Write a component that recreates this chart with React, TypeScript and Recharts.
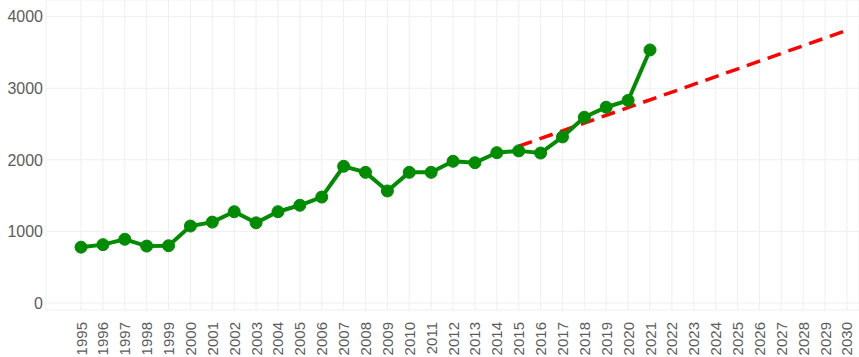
import { LineChart, Line, XAxis, YAxis, CartesianGrid } from "recharts";

const YEARS = [
  1995, 1996, 1997, 1998, 1999, 2000, 2001, 2002, 2003, 2004, 2005, 2006,
  2007, 2008, 2009, 2010, 2011, 2012, 2013, 2014, 2015, 2016, 2017, 2018,
  2019, 2020, 2021, 2022, 2023, 2024, 2025, 2026, 2027, 2028, 2029, 2030,
];

const ACTUAL_YEARS = YEARS.slice(0, 27);
const ACTUAL_VALUES = [
  780, 815, 890, 795, 800, 1075, 1130, 1275, 1120, 1275, 1365, 1480,
  1910, 1825, 1565, 1825, 1825, 1980, 1960, 2100, 2125, 2095, 2320, 2595,
  2735, 2830, 3535,
];

const TREND_YEARS = [2015, 2030];
const TREND_VALUES = [2190, 3810];

const Y_TICKS = [0, 1000, 2000, 3000, 4000];

const actualData = ACTUAL_YEARS.map((year, i) => ({ year, value: ACTUAL_VALUES[i] }));
const trendData = TREND_YEARS.map((year, i) => ({ year, value: TREND_VALUES[i] }));

const TEXT = "#5c5c5c";
const FONT = "'Liberation Sans', Arial, sans-serif";

function YearTick(props: any) {
  const { x, y, payload } = props;
  return (
    <text
      x={x}
      y={y}
      transform={`rotate(-90, ${x}, ${y})`}
      textAnchor="end"
      dominantBaseline="central"
      fill={TEXT}
      fontSize={15}
      fontFamily={FONT}
    >
      {payload.value}
    </text>
  );
}

export default function App() {
  return (
    <div style={{ width: 859, height: 357, background: "#fff" }}>
      <style>{`body { margin: 0; }`}</style>
      <LineChart width={859} height={357} margin={{ top: 0, right: 0, bottom: 0, left: 0 }}>
        <CartesianGrid stroke="#efefef" strokeWidth={1} />
        <XAxis
          type="number"
          dataKey="year"
          domain={[1993.4, 2030.55]}
          ticks={YEARS}
          interval={0}
          allowDataOverflow
          axisLine={false}
          tickLine={false}
          tickSize={0}
          tickMargin={12}
          height={47}
          tick={<YearTick />}
        />
        <YAxis
          type="number"
          domain={[-98, 4233]}
          ticks={Y_TICKS}
          allowDataOverflow
          axisLine={false}
          tickLine={false}
          tickSize={0}
          tickMargin={3}
          width={46}
          tick={{ fontSize: 16, fill: TEXT, fontFamily: FONT }}
        />
        <Line
          data={trendData}
          dataKey="value"
          stroke="#ff0000"
          strokeWidth={3.5}
          strokeDasharray="14 8"
          dot={false}
          isAnimationActive={false}
        />
        <Line
          data={actualData}
          dataKey="value"
          stroke="#008b00"
          strokeWidth={4}
          dot={{ r: 6, fill: "#008b00", stroke: "#008b00", strokeWidth: 1 }}
          isAnimationActive={false}
        />
      </LineChart>
    </div>
  );
}
